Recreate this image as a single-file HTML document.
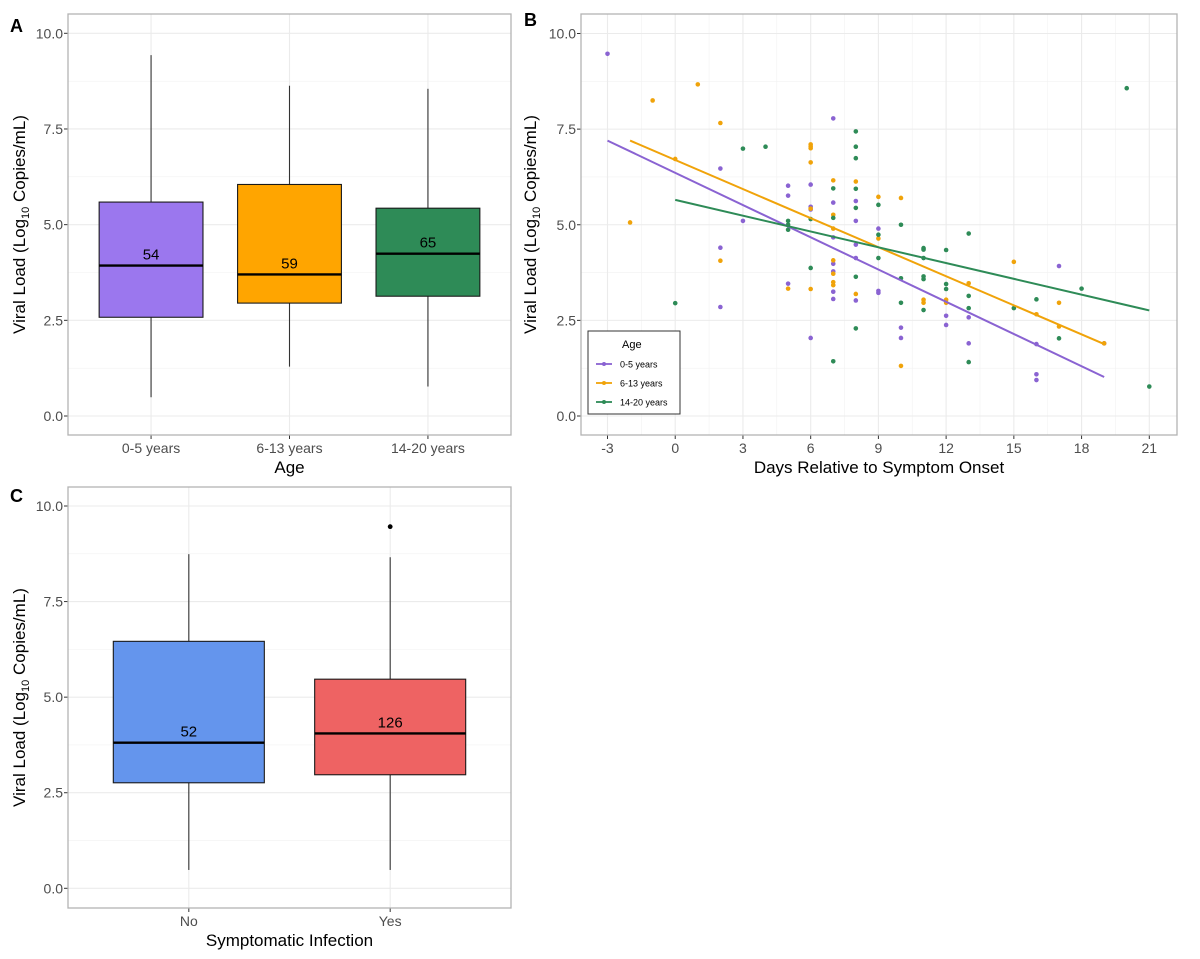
<!DOCTYPE html>
<html><head><meta charset="utf-8"><style>
body{margin:0;background:#fff;}
svg{display:block;font-family:"Liberation Sans",Arial,sans-serif;}
.tick{font-size:14px;fill:#4d4d4d;}
.title{font-size:17px;fill:#000;}
</style></head><body>
<svg id="fig" width="1200" height="959" viewBox="0 0 1200 959" xmlns="http://www.w3.org/2000/svg">
<rect width="1200" height="959" fill="#fff"/>
<text x="10" y="32" font-size="18" font-weight="bold">A</text>
<text x="524" y="26" font-size="18" font-weight="bold">B</text>
<text x="10" y="502" font-size="18" font-weight="bold">C</text>
<g id="pa"></g>
<g id="pb"></g>
<g id="pc"></g>
</svg>
<script>
// Panel A data
const ageCats = ["0-5 years","6-13 years","14-20 years"];
const ageMin = [0.49, 1.29, 0.77];
const ageQ1 = [2.58, 2.95, 3.13];
const ageMed = [3.93, 3.70, 4.24];
const ageQ3 = [5.59, 6.05, 5.43];
const ageMax = [9.43, 8.63, 8.55];
const ageN = ["54","59","65"];
const ageColors = ["#9b77ee","#ffa500","#2e8b57"];
// Panel C data
const symCats = ["No","Yes"];
const symMin = [0.48, 0.48];
const symQ1 = [2.76, 2.97];
const symMed = [3.81, 4.05];
const symQ3 = [6.46, 5.47];
const symMax = [8.74, 8.66];
const symN = ["52","126"];
const symOutliers = [[], [9.46]];
const symColors = ["#6495ed","#ee6363"];
// Shared y ticks
const yTicks = [0, 2.5, 5, 7.5, 10];
const yTickLabels = ["0.0","2.5","5.0","7.5","10.0"];
// Panel B data
const xTicksB = [-3,0,3,6,9,12,15,18,21];
const grpNames = ["0-5 years","6-13 years","14-20 years"];
const grpColors = ["#8a63d2","#f0a30a","#2e8b57"];
const purpleDay = [-3,2,2,2,3,5,5,5,6,6,6,6,7,7,7,7,7,7,7,8,8,8,8,8,9,9,9,10,10,12,12,13,13,16,16,16,17,19];
const purpleVal = [9.47,6.47,4.4,2.85,5.1,6.02,5.76,3.46,6.05,5.47,5.4,2.04,7.78,5.58,4.67,3.98,3.78,3.25,3.06,5.62,5.1,4.48,4.13,3.02,4.9,3.27,3.22,2.31,2.04,2.62,2.38,2.58,1.9,1.88,1.09,0.94,3.92,1.9];
const orangeDay = [-2,-1,0,1,2,2,5,6,6,6,6,6,6,7,7,7,7,7,7,7,8,8,9,9,10,10,11,11,12,12,13,15,16,17,17,19];
const orangeVal = [5.06,8.25,6.72,8.67,7.66,4.06,3.33,7.1,7.05,7.0,6.63,5.42,3.32,6.16,5.26,4.9,4.07,3.72,3.5,3.42,6.13,3.19,5.73,4.64,5.7,1.31,3.04,2.96,3.04,2.96,3.47,4.03,2.66,2.96,2.34,1.9];
const greenDay = [0,3,4,5,5,5,6,6,7,7,7,8,8,8,8,8,8,8,9,9,9,10,10,10,11,11,11,11,11,11,12,12,12,13,13,13,13,15,16,17,18,20,21];
const greenVal = [2.95,6.99,7.04,5.1,5.0,4.87,5.15,3.87,5.95,5.18,1.43,7.44,7.04,6.74,5.94,5.44,3.64,2.29,5.52,4.74,4.13,5.0,3.6,2.96,4.39,4.35,4.13,3.65,3.58,2.77,4.34,3.45,3.32,4.77,3.14,2.82,1.41,2.82,3.05,2.03,3.33,8.57,0.77];
const fitStartX = [-3,-2,0];
const fitStartY = [7.2,7.2,5.65];
const fitEndX = [19,19,21];
const fitEndY = [1.02,1.88,2.76];

const NS="http://www.w3.org/2000/svg";
function mk(parent,tag,attrs){const e=document.createElementNS(NS,tag);for(const k in attrs)e.setAttribute(k,attrs[k]);parent.appendChild(e);return e;}

function yScaleFactory(y0,y10){return v=>y0+(y10-y0)*v/10;}

function frameAndGrid(g,L,R,T,B,ys,xs,xMinor,yMinorVals){
  mk(g,"rect",{x:L,y:T,width:R-L,height:B-T,fill:"#fff"});
  yMinorVals.forEach(v=>{const l=mk(g,"line",{x1:L,x2:R,y1:ys(v),y2:ys(v),stroke:"#f2f2f2","stroke-width":0.6});
    
    });
  xMinor.forEach(px=>{const l=mk(g,"line",{x1:px,x2:px,y1:T,y2:B,stroke:"#f2f2f2","stroke-width":0.6});
    
    });
  yTicks.forEach((v,i)=>{const l=mk(g,"line",{x1:L,x2:R,y1:ys(v),y2:ys(v),stroke:"#ebebeb","stroke-width":1.1});
    
    
    const tk=mk(g,"line",{x1:L-4,x2:L,y1:ys(v),y2:ys(v),stroke:"#333","stroke-width":1});
    
    
    const t=mk(g,"text",{x:L-5,y:ys(v)+5,"text-anchor":"end",class:"tick"});t.textContent=yTickLabels[i];
    
    });
  xs.forEach(px=>{const l=mk(g,"line",{x1:px,x2:px,y1:T,y2:B,stroke:"#ebebeb","stroke-width":1.1});
    
    
    const tk=mk(g,"line",{x1:px,x2:px,y1:B,y2:B+4,stroke:"#333","stroke-width":1});
    
    });
}
function border(g,L,R,T,B){const r=mk(g,"rect",{x:L,y:T,width:R-L,height:B-T,fill:"none",stroke:"#b3b3b3","stroke-width":1.3});
  
  }
function yTitle(g,x,cy){const t=mk(g,"text",{transform:`translate(${x},${cy}) rotate(-90)`,"text-anchor":"middle",class:"title"});
  t.innerHTML='Viral Load (Log<tspan font-size="11" dy="4">10</tspan><tspan dy="-4"> Copies/mL)</tspan>';
  
  }

function boxPanel(g,L,R,T,B,y0,y10,cats,mins,q1,med,q3,maxs,ns,cols,outl,xTitle){
  const ys=yScaleFactory(y0,y10);
  const n=cats.length, unit=(R-L)/(n-1+1.2);
  const xs=c=>L+unit*(0.6+c);
  const xp=cats.map((_,i)=>xs(i));
  const yMinor=[1.25,3.75,6.25,8.75];
  frameAndGrid(g,L,R,T,B,ys,xp,[],yMinor);
  cats.forEach((c,i)=>{
    const cx=xs(i),hw=unit*0.375;
    const w1=mk(g,"line",{x1:cx,x2:cx,y1:ys(maxs[i]),y2:ys(q3[i]),stroke:"#333","stroke-width":1.1});
    
    
    const w2=mk(g,"line",{x1:cx,x2:cx,y1:ys(q1[i]),y2:ys(mins[i]),stroke:"#333","stroke-width":1.1});
    
    
    const b=mk(g,"rect",{x:cx-hw,y:ys(q3[i]),width:2*hw,height:ys(q1[i])-ys(q3[i]),fill:cols[i],stroke:"#1a1a1a","stroke-width":1.1});
    
    
    const m=mk(g,"line",{x1:cx-hw,x2:cx+hw,y1:ys(med[i]),y2:ys(med[i]),stroke:"#000","stroke-width":2.4});
    
    
    const t=mk(g,"text",{x:cx,y:ys(med[i])-6,"text-anchor":"middle","font-size":"15",fill:"#000"});t.textContent=ns[i];
    
    
    (outl?outl[i]:[]).forEach(v=>{const o=mk(g,"circle",{cx:cx,cy:ys(v),r:2.4,fill:"#000"});
      
      });
    const xl=mk(g,"text",{x:cx,y:B+18,"text-anchor":"middle",class:"tick"});xl.textContent=c;
    
    
  });
  border(g,L,R,T,B);
  const xt=mk(g,"text",{x:(L+R)/2,y:B+38,"text-anchor":"middle",class:"title"});xt.textContent=xTitle;
  
  
  yTitle(g,25,(T+B)/2);
}
boxPanel(document.getElementById("pa"),68,511,14,435,416,33.3,ageCats,ageMin,ageQ1,ageMed,ageQ3,ageMax,ageN,ageColors,null,"Age");
boxPanel(document.getElementById("pc"),68,511,487,908,888.3,506,symCats,symMin,symQ1,symMed,symQ3,symMax,symN,symColors,symOutliers,"Symptomatic Infection");

// Panel B
(function(){
  const g=document.getElementById("pb");
  const L=581,R=1177,T=14,B=435;
  const ys=yScaleFactory(416,33.5);
  const xs=d=>607.5+(d+3)*(1149.3-607.5)/24;
  const xp=xTicksB.map(xs);
  const xMinor=xTicksB.slice(0,-1).map(d=>xs(d+1.5));
  frameAndGrid(g,L,R,T,B,ys,xp,xMinor,[1.25,3.75,6.25,8.75]);
  xTicksB.forEach(d=>{const t=mk(g,"text",{x:xs(d),y:B+18,"text-anchor":"middle",class:"tick"});t.textContent=String(d);
    
    });
  const days=[purpleDay,orangeDay,greenDay], vals=[purpleVal,orangeVal,greenVal];
  days.forEach((arr,gi)=>{
    arr.forEach((d,j)=>{const c=mk(g,"circle",{cx:xs(d),cy:ys(vals[gi][j]),r:2.3,fill:grpColors[gi]});
      
      });
  });
  days.forEach((arr,gi)=>{
    const l=mk(g,"line",{x1:xs(fitStartX[gi]),y1:ys(fitStartY[gi]),x2:xs(fitEndX[gi]),y2:ys(fitEndY[gi]),stroke:grpColors[gi],"stroke-width":2});
    
    
  });
  border(g,L,R,T,B);
  const xt=mk(g,"text",{x:(L+R)/2,y:B+38,"text-anchor":"middle",class:"title"});xt.textContent="Days Relative to Symptom Onset";
  
  
  yTitle(g,536,(T+B)/2);
  // legend
  const lg=mk(g,"g",{});
  
  
  mk(lg,"rect",{x:588,y:331,width:92,height:83,fill:"#fff",stroke:"#333","stroke-width":1});
  const lt=mk(lg,"text",{x:622,y:348,"font-size":"11",fill:"#000"});lt.textContent="Age";
  
  
  grpNames.forEach((nm,i)=>{
    const y=364+i*19;
    const e=mk(lg,"g",{});
    
    
    mk(e,"line",{x1:596,x2:612,y1:y,y2:y,stroke:grpColors[i],"stroke-width":1.8});
    mk(e,"circle",{cx:604,cy:y,r:2,fill:grpColors[i]});
    const t=mk(e,"text",{x:620,y:y+3.5,"font-size":"9",fill:"#000"});t.textContent=nm;
  });
})();
</script>
</body></html>
